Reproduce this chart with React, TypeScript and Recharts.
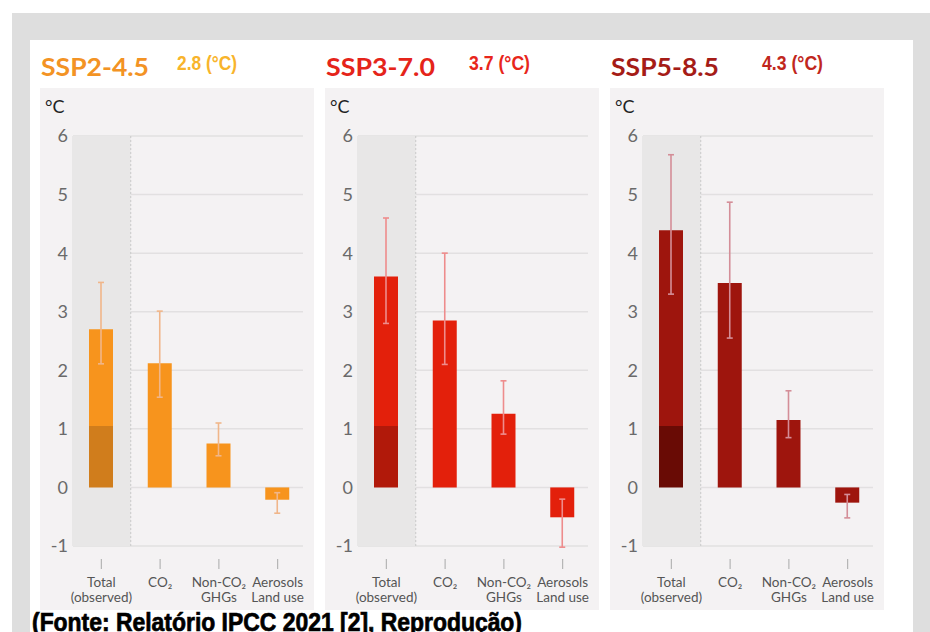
import { BarChart, Bar, XAxis, YAxis, CartesianGrid, ErrorBar, ReferenceArea } from 'recharts';

// categories and tick labels
const categories = ['Total', 'CO₂', 'Non-CO₂', 'Aerosols'];
const tickLines: Record<string, string[]> = {
    'Total': ['Total', '(observed)'],
    'CO₂': ['CO₂'],
    'Non-CO₂': ['Non-CO₂', 'GHGs'],
    'Aerosols': ['Aerosols', 'Land use'],
};
const yTicks = [-1, 0, 1, 2, 3, 4, 5, 6];

// observed part of total warming (dark segment)
const observed = 1.05;

// SSP2-4.5
const ssp245Values = [2.7, 2.12, 0.75, -0.21];
const ssp245Low = [2.11, 1.54, 0.54, -0.44];
const ssp245High = [3.5, 3.01, 1.1, -0.09];

// SSP3-7.0
const ssp370Values = [3.6, 2.85, 1.26, -0.51];
const ssp370Low = [2.8, 2.1, 0.91, -1.02];
const ssp370High = [4.6, 4.0, 1.82, -0.2];

// SSP5-8.5
const ssp585Values = [4.39, 3.49, 1.15, -0.26];
const ssp585Low = [3.3, 2.55, 0.85, -0.52];
const ssp585High = [5.68, 4.87, 1.65, -0.12];

const buildRows = (values: number[], low: number[], high: number[]) =>
    categories.map((cat, i) => {
        const obs = i === 0 ? observed : 0;
        return { cat, total: values[i], obs, rest: values[i] - obs, lo: low[i], hi: high[i] };
    });

const CatTick = (props: any) => {
    const { x, y, payload } = props;
    const lines = tickLines[payload.value] || [payload.value];
    return (
        <g>
            <line x1={x} x2={x} y1={y + 13} y2={y + 23} stroke="#b5b5b5" strokeWidth={1.2} />
            {lines.map((t, i) => (
                <text key={i} x={x} y={y + 41 + i * 14.5} textAnchor="middle" fontSize={13.5} fill="#555" fontFamily="Lato">
                    {t}
                </text>
            ))}
        </g>
    );
};

const BandShape = (props: any) => {
    const { x, y, width, height } = props;
    return (
        <g>
            <rect x={x} y={y} width={width} height={height} fill="#e8e7e7" />
            <line x1={x + width} x2={x + width} y1={y} y2={y + height} stroke="#c9c9c9" strokeDasharray="2 2" />
        </g>
    );
};

interface PanelProps {
    left: number;
    rows: ReturnType<typeof buildRows>;
    main: string;
    dark: string;
    err: string;
}

function Panel({ left, rows, main, dark, err }: PanelProps) {
    return (
        <div style={{ position: 'absolute', left, top: 88, width: 274, height: 522, background: '#f4f2f3' }}>
            <div style={{ position: 'absolute', left: 5, top: 7, fontFamily: 'Lato', fontSize: 18, color: '#222' }}>°C</div>
            <BarChart
                width={274}
                height={522}
                data={rows}
                stackOffset="sign"
                margin={{ top: 48, right: 11, bottom: 4, left: 0 }}
            >
                <ReferenceArea x1="Total" x2="Total" y1={-1} y2={6} shape={<BandShape />} ifOverflow="visible" />
                <CartesianGrid vertical={false} stroke="#e2e0e1" strokeWidth={1.5} />
                <XAxis
                    dataKey="cat"
                    axisLine={false}
                    tickLine={false}
                    tickSize={0}
                    tickMargin={0}
                    height={60}
                    interval={0}
                    padding={{ left: -1, right: -4 }}
                    tick={<CatTick />}
                />
                <YAxis
                    type="number"
                    domain={[-1, 6]}
                    ticks={yTicks}
                    width={33}
                    axisLine={false}
                    tickLine={false}
                    tickSize={0}
                    tickMargin={5}
                    tick={{ fontSize: 18, fill: '#6a6a6a', fontFamily: 'Lato' }}
                />
                <Bar dataKey="obs" stackId="s" fill={dark} barSize={24} isAnimationActive={false} />
                <Bar dataKey="rest" stackId="s" fill={main} barSize={24} isAnimationActive={false}>
                    <ErrorBar
                        dataKey={(d: any) => [d.total - d.lo, d.hi - d.total]}
                        direction="y"
                        width={3}
                        stroke={err}
                        strokeWidth={1.6}
                    />
                </Bar>
            </BarChart>
        </div>
    );
}

export default function App() {
    return (
        <div style={{ position: 'absolute', left: 0, top: 0, width: 930, height: 632, overflow: 'hidden', background: '#fff' }}>
            <div style={{ position: 'absolute', left: 12, top: 13, width: 918, height: 640, background: '#dedede' }} />
            <div style={{ position: 'absolute', left: 30, top: 40, width: 883, height: 600, background: '#fff' }} />

            <Panel left={40} rows={buildRows(ssp245Values, ssp245Low, ssp245High)} main="#f7941d" dark="#d07d1c" err="#f0b68a" />
            <Panel left={325} rows={buildRows(ssp370Values, ssp370Low, ssp370High)} main="#e3200b" dark="#b1190a" err="#ee8c8c" />
            <Panel left={610} rows={buildRows(ssp585Values, ssp585Low, ssp585High)} main="#9e150d" dark="#690b05" err="#d48e98" />

            <svg width={930} height={632} style={{ position: 'absolute', left: 0, top: 0, pointerEvents: 'none' }}>
                <g fontFamily="Lato" fontWeight="bold" fontSize={25.5}>
                    <text x={41} y={76} fill="#f39324" textLength={108} lengthAdjust="spacingAndGlyphs">SSP2-4.5</text>
                    <text x={326} y={76} fill="#e5241a" textLength={109} lengthAdjust="spacingAndGlyphs">SSP3-7.0</text>
                    <text x={611} y={76} fill="#a51c17" textLength={108} lengthAdjust="spacingAndGlyphs">SSP5-8.5</text>
                </g>
                <g fontFamily="'Liberation Sans'" fontWeight="bold" fontSize={21}>
                    <text x={177} y={69.5} fill="#f8b42b" textLength={60} lengthAdjust="spacingAndGlyphs">2.8 (°C)</text>
                    <text x={469} y={69.5} fill="#e8261b" textLength={61} lengthAdjust="spacingAndGlyphs">3.7 (°C)</text>
                    <text x={762} y={69.5} fill="#c1271d" textLength={61} lengthAdjust="spacingAndGlyphs">4.3 (°C)</text>
                </g>
                <text
                    x={32}
                    y={631}
                    fontFamily="'Liberation Sans'"
                    fontWeight="bold"
                    fontSize={25}
                    fill="#000"
                    stroke="#000"
                    strokeWidth={0.7}
                    textLength={490}
                    lengthAdjust="spacingAndGlyphs"
                >
                    (Fonte: Relatório IPCC 2021 [2], Reprodução)
                </text>
            </svg>
        </div>
    );
}
